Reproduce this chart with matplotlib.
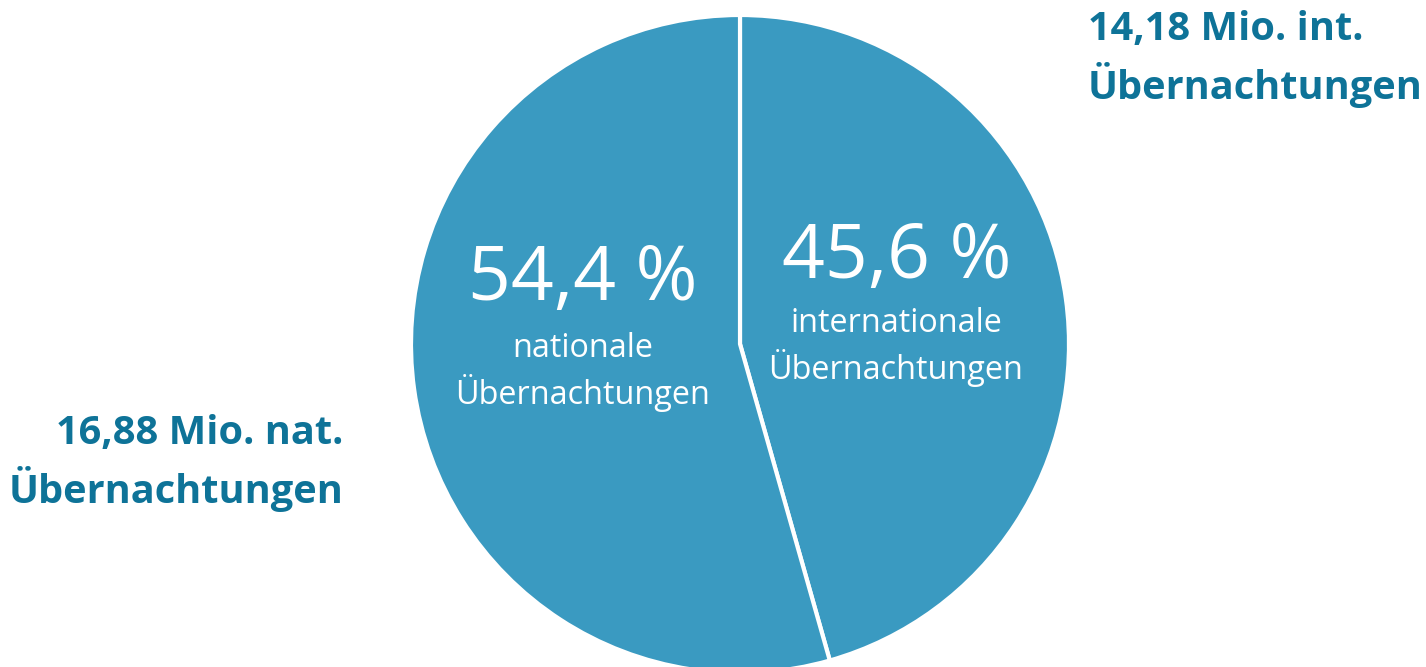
import matplotlib
matplotlib.use("Agg")
import matplotlib.pyplot as plt

categories = ["internationale\nÜbernachtungen", "nationale\nÜbernachtungen"]
shares = [45.6, 54.4]
share_labels = ["45,6 %", "54,4 %"]
totals = ["14,18 Mio. int.\nÜbernachtungen", "16,88 Mio. nat.\nÜbernachtungen"]

W, H = 1426, 667
fig = plt.figure(figsize=(W / 100, H / 100), dpi=100)
ax = fig.add_axes([0, 0, 1, 1])

pie_color = "#3A9AC1"
cx, cy, r = 740, H - 344, 329
ax.pie(shares, colors=[pie_color, pie_color], startangle=90, counterclock=False,
       center=(cx, cy), radius=r, frame=True,
       wedgeprops=dict(edgecolor="white", linewidth=3))
ax.set_xlim(0, W)
ax.set_ylim(0, H)
ax.set_aspect("equal")
ax.axis("off")

font = "Open Sans"
# inside labels
ax.text(897, H - 258, share_labels[0], color="white", fontsize=54, ha="center", va="center", family=font)
ax.text(896, H - 347, categories[0], color="white", fontsize=23.3, ha="center", va="center",
        family=font, linespacing=1.3)
ax.text(583, H - 281, share_labels[1], color="white", fontsize=54, ha="center", va="center", family=font)
ax.text(583, H - 372, categories[1], color="white", fontsize=23.3, ha="center", va="center",
        family=font, linespacing=1.3)

label_color = "#0E7398"
ax.text(1088, H - 59, totals[0], color=label_color, fontsize=28.6, fontweight="bold",
        ha="left", va="center", family=font, linespacing=1.35)
ax.text(343, H - 463, totals[1], color=label_color, fontsize=28.6, fontweight="bold",
        ha="right", va="center", family=font, linespacing=1.35, multialignment="right")

fig.savefig("out.png", dpi=100)
